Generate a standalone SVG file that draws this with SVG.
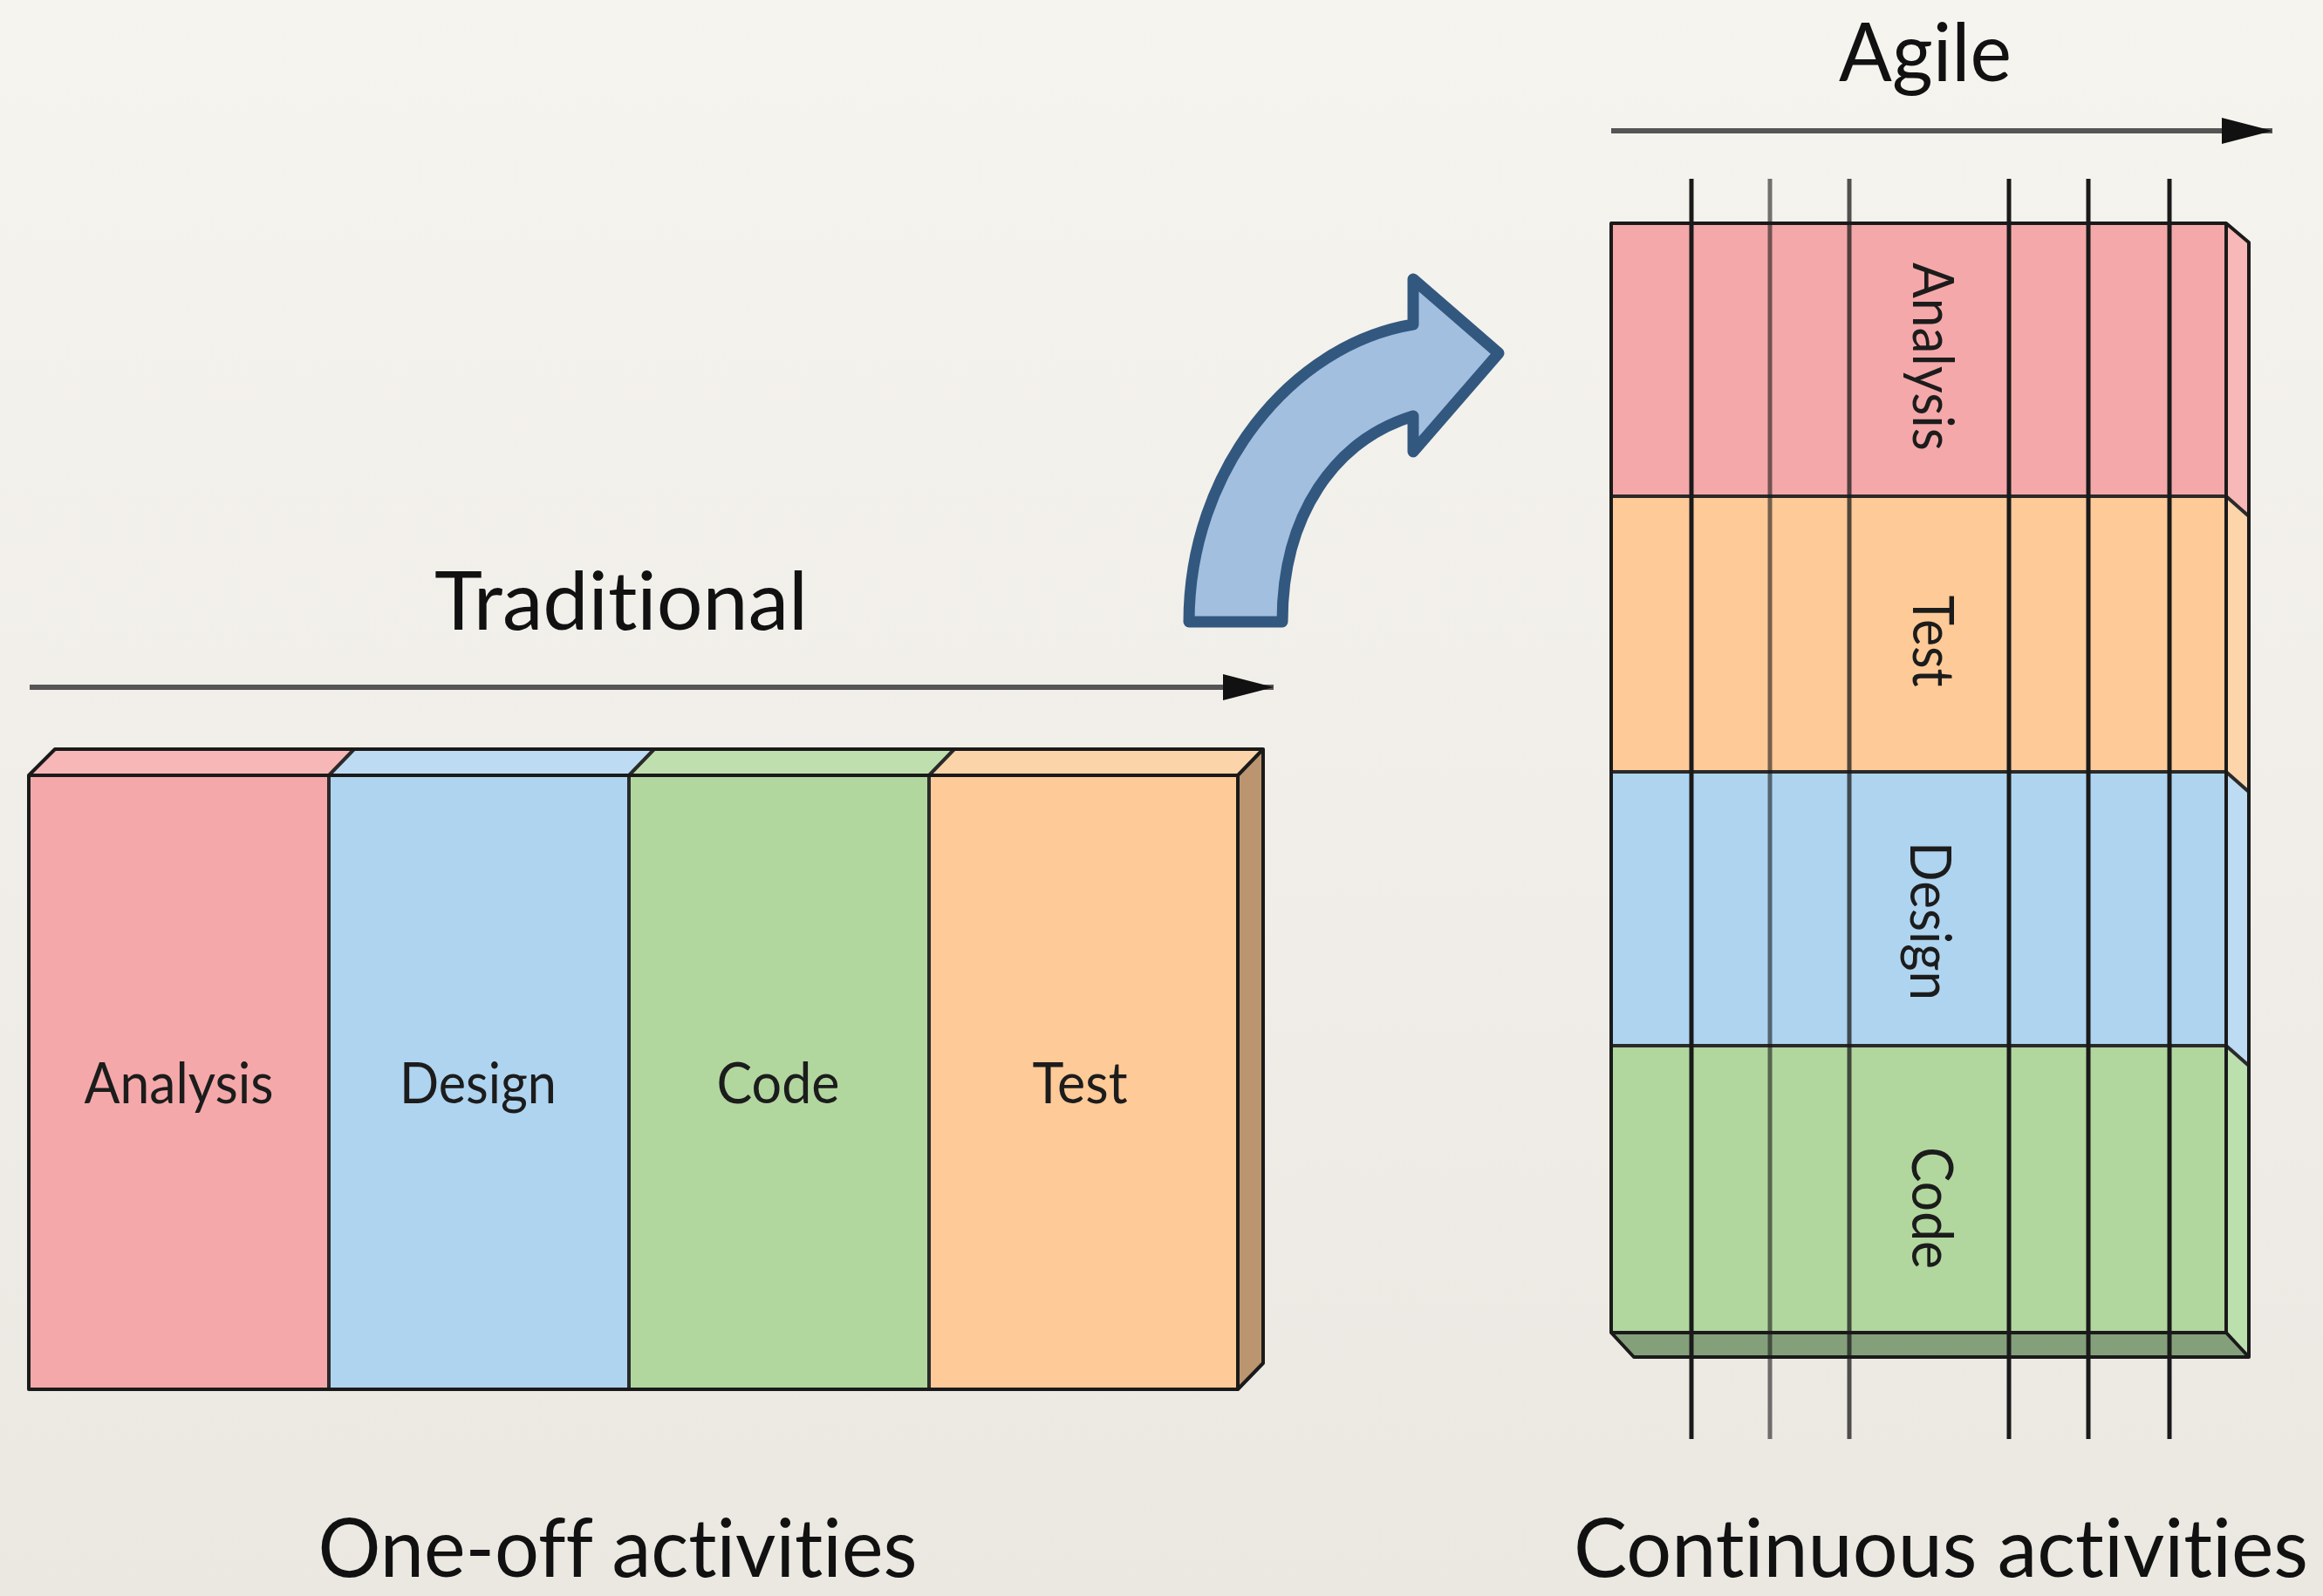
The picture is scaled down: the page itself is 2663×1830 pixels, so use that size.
<svg xmlns="http://www.w3.org/2000/svg" width="2663" height="1830" viewBox="0 0 2663 1830">
<defs>
<linearGradient id="bg" x1="0" y1="0" x2="0" y2="1">
<stop offset="0" stop-color="#f6f4ef"/>
<stop offset="1" stop-color="#ebe8e2"/>
</linearGradient>
<marker id="ah" markerUnits="userSpaceOnUse" markerWidth="60" markerHeight="32" refX="58" refY="16" orient="auto">
<path d="M0,1 L58,16 L0,31 Z" fill="#111"/>
</marker>
</defs>
<style>
.edge{stroke:#1a1a1a;stroke-width:4;stroke-linejoin:round}
.div{stroke:#2a2a2a;stroke-width:4}
.lbl{font-family:Lato,"Open Sans",sans-serif;fill:#1c1c1c;font-size:66px;text-anchor:middle;font-variant-ligatures:none;font-feature-settings:"liga" 0,"clig" 0}
.big{font-family:Lato,"Open Sans",sans-serif;fill:#111;font-size:93px;text-anchor:middle;font-variant-ligatures:none;font-feature-settings:"liga" 0,"clig" 0}
.tl{stroke:#555;stroke-width:6;fill:none}
.vl{stroke:#1a1a1a;stroke-width:5}
</style>
<rect x="0" y="0" width="2663" height="1830" fill="url(#bg)"/>

<g id="traditional-block">
<polygon points="33,889 63,859 1448,859 1419,889" fill="#fbd4a9"/>
<polygon points="33,889 63,859 406,859 377,889" fill="#f8b7b7"/>
<polygon points="377,889 406,859 750,859 721,889" fill="#bddcf3"/>
<polygon points="721,889 750,859 1094,859 1065,889" fill="#c0dfae"/>
<polygon points="1419,889 1448,859 1448,1563 1419,1593" fill="#bb9570"/>
<rect x="33" y="889" width="344" height="704" fill="#f5a8a9"/>
<rect x="377" y="889" width="344" height="704" fill="#aed4f0"/>
<rect x="721" y="889" width="344" height="704" fill="#b1d79e"/>
<rect x="1065" y="889" width="354" height="704" fill="#fdca98"/>
<line class="div" x1="377" y1="889" x2="377" y2="1593"/>
<line class="div" x1="721" y1="889" x2="721" y2="1593"/>
<line class="div" x1="1065" y1="889" x2="1065" y2="1593"/>
<line class="div" x1="377" y1="889" x2="406" y2="859"/>
<line class="div" x1="721" y1="889" x2="750" y2="859"/>
<line class="div" x1="1065" y1="889" x2="1094" y2="859"/>
<polygon class="edge" points="33,889 63,859 1448,859 1448,1563 1419,1593 33,1593" fill="none"/>
<polyline class="edge" points="33,889 1419,889 1448,859" fill="none"/>
<line class="edge" x1="1419" y1="889" x2="1419" y2="1593"/>
<text class="lbl" x="205" y="1265" textLength="217" lengthAdjust="spacingAndGlyphs">Analysis</text>
<text class="lbl" x="548" y="1265" textLength="180" lengthAdjust="spacingAndGlyphs">Design</text>
<text class="lbl" x="892" y="1265" textLength="141" lengthAdjust="spacingAndGlyphs">Code</text>
<text class="lbl" x="1238" y="1265" textLength="109" lengthAdjust="spacingAndGlyphs">Test</text>
</g>

<g id="agile-block">
<polygon points="2552,256 2578,278 2578,592 2552,569" fill="#f8b8b8"/>
<polygon points="2552,569 2578,592 2578,908 2552,885" fill="#fdd5ab"/>
<polygon points="2552,885 2578,908 2578,1222 2552,1199" fill="#bddcf3"/>
<polygon points="2552,1199 2578,1222 2578,1556 2552,1528" fill="#bcdfae"/>
<polygon points="1847,1528 2552,1528 2578,1556 1873,1556" fill="#84a07b"/>
<rect x="1847" y="256" width="705" height="313" fill="#f5a8a9"/>
<rect x="1847" y="569" width="705" height="316" fill="#fdca98"/>
<rect x="1847" y="885" width="705" height="314" fill="#aed4f0"/>
<rect x="1847" y="1199" width="705" height="329" fill="#b1d79e"/>
<line class="div" x1="1847" y1="569" x2="2552" y2="569"/>
<line class="div" x1="1847" y1="885" x2="2552" y2="885"/>
<line class="div" x1="1847" y1="1199" x2="2552" y2="1199"/>
<line class="div" x1="2552" y1="569" x2="2578" y2="592"/>
<line class="div" x1="2552" y1="885" x2="2578" y2="908"/>
<line class="div" x1="2552" y1="1199" x2="2578" y2="1222"/>
<polygon class="edge" points="1847,256 2552,256 2578,278 2578,1556 1873,1556 1847,1528" fill="none"/>
<polyline class="edge" points="2552,256 2552,1528 2578,1556" fill="none"/>
<line class="edge" x1="1847" y1="1528" x2="2552" y2="1528"/>
<line class="vl" x1="1939" y1="205" x2="1939" y2="1650"/>
<line class="vl" x1="2029" y1="205" x2="2029" y2="1650" opacity="0.6"/>
<line class="vl" x1="2120" y1="205" x2="2120" y2="1650" opacity="0.75"/>
<line class="vl" x1="2303" y1="205" x2="2303" y2="1650"/>
<line class="vl" x1="2394" y1="205" x2="2394" y2="1650"/>
<line class="vl" x1="2487" y1="205" x2="2487" y2="1650"/>
<text class="lbl" transform="translate(2193,409) rotate(90)" x="0" y="0" textLength="216" lengthAdjust="spacingAndGlyphs">Analysis</text>
<text class="lbl" transform="translate(2193,735) rotate(90)" x="0" y="0" textLength="105" lengthAdjust="spacingAndGlyphs">Test</text>
<text class="lbl" transform="translate(2190,1056) rotate(90)" x="0" y="0" textLength="182" lengthAdjust="spacingAndGlyphs">Design</text>
<text class="lbl" transform="translate(2192,1385) rotate(90)" x="0" y="0" textLength="140" lengthAdjust="spacingAndGlyphs">Code</text>
</g>

<g id="connectors">
<line class="tl" x1="34" y1="788" x2="1460" y2="788" marker-end="url(#ah)"/>
<line class="tl" x1="1847" y1="150" x2="2605" y2="150" marker-end="url(#ah)"/>
<path d="M1363,713 L1470,713 C1470,590 1530,505 1620,477 L1620,518 L1718,405 L1620,320 L1620,372 C1480,395 1363,540 1363,713 Z" fill="#a3bfe0" stroke="#33587f" stroke-width="13" stroke-linejoin="round"/>
</g>

<g id="titles">
<text class="big" x="712" y="722" textLength="428" lengthAdjust="spacingAndGlyphs">Traditional</text>
<text class="big" x="2207" y="93" textLength="198" lengthAdjust="spacingAndGlyphs">Agile</text>
<text class="big" x="708" y="1808" textLength="687" lengthAdjust="spacingAndGlyphs">One-off activities</text>
<text class="big" x="2225" y="1808" textLength="842" lengthAdjust="spacingAndGlyphs">Continuous activities</text>
</g>
</svg>
